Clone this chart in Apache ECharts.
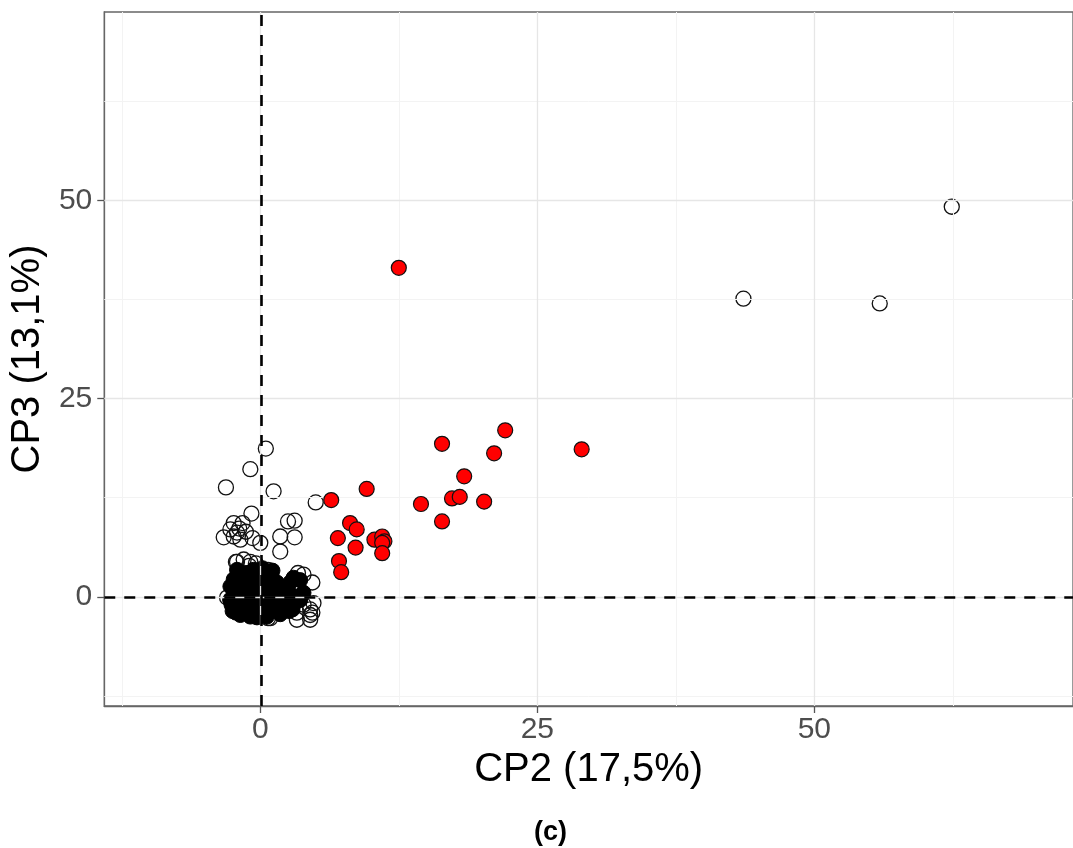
<!DOCTYPE html>
<html>
<head>
<meta charset="utf-8">
<script src="https://cdn.jsdelivr.net/npm/echarts@6/dist/echarts.min.js"></script>
<style>
html, body { margin: 0; padding: 0; background: #fff; }
#chart { width: 1073px; height: 848px; }
</style>
</head>
<body>
<div id="chart"></div>
<script>
// CP2 / CP3 scores
var hollowPts = [
	[62.4, 49.2], [43.6, 37.6], [55.9, 37.0],
	[0.5, 18.7], [-0.9, 16.1], [-3.1, 13.8], [1.2, 13.3], [5.0, 11.9],
	[-0.8, 10.5], [-2.4, 9.3], [-1.6, 9.3], [-1.9, 8.6], [2.5, 9.5], [3.1, 9.6],
	[1.8, 7.6], [3.1, 7.5], [1.8, 5.7],
	[-3.3, 7.5], [-2.7, 8.5], [-2.1, 8.1], [-1.3, 8.2], [-0.7, 7.4], [0.0, 6.8], [-1.8, 7.2], [-2.4, 7.6],
	[-1.5, 4.7], [-0.9, 4.4], [-2.1, 4.4], [-0.4, 4.2], [-2.2, 4.4], [-1.0, 3.9],
	[3.4, 3.0], [4.7, 1.8], [0.7, 3.4], [3.9, 2.8],
	[3.3, -2.9], [4.5, -2.9], [4.7, -2.0], [4.5, -2.3], [4.8, -0.8], [3.3, -2.0],
	[0.7, -2.7], [1.8, -2.0], [0.9, -2.7], [3.9, -1.0], [4.5, -1.6],
	[-2.7, -0.4], [-3.0, -0.1]
]
var redPts = [
	[12.5, 41.5], [29.0, 18.6], [22.1, 21.0], [16.4, 19.3], [21.1, 18.1], [18.4, 15.2],
	[17.3, 12.4], [18.0, 12.6], [20.2, 12.0], [14.5, 11.7], [16.4, 9.5],
	[9.6, 13.6], [6.4, 12.2], [8.1, 9.3], [8.7, 8.5], [7.0, 7.4], [8.6, 6.2],
	[10.3, 7.2], [11.0, 7.6], [11.2, 7.0], [11.0, 6.8], [11.0, 5.5], [7.1, 4.5], [7.3, 3.1]
]
var blackPts = [
	[-2.1, 3.4], [0.2, 3.6], [-0.6, 3.4], [0.7, 2.5], [3.0, 2.4], [3.6, 2.1], [2.7, 1.8], [1.5, 1.8],
	[-1.2, 2.1], [-2.7, 1.3], [0.0, 1.3], [-2.4, 0.9], [-1.8, 0.3], [-0.9, 0.0], [-0.3, -0.1],
	[0.6, 0.5], [1.5, 0.0], [2.4, 0.5], [3.9, 0.5], [-2.7, -0.4], [-1.5, -0.8], [0.3, -1.0],
	[1.8, -1.3], [3.0, -1.0], [3.6, -0.4], [2.4, -0.8], [-1.5, -1.6], [-0.3, -2.0], [1.2, -1.6],
	[-0.9, -2.5], [0.6, -2.5], [-2.0, -1.2], [-1.0, 1.0], [0.8, 1.2], [2.0, -0.2], [-2.2, -2.0],
	[1.0, 2.8], [-1.6, 2.8], [0.0, -1.5], [-0.5, 0.8],
	[-2.5, -1.8], [-1.8, -2.3], [-1.2, -0.4], [-0.6, -1.2], [0.9, -0.4], [1.3, 0.9], [2.2, 1.2],
	[2.9, 0.2], [3.3, -0.3], [2.6, -1.8], [1.8, -2.2], [-0.2, 2.2], [-1.6, 1.4], [-2.4, 2.2],
	[-0.3, -2.6], [0.4, 0.2], [-1.9, -0.1], [1.6, -0.8], [0.2, 2.0], [-0.8, -1.8], [2.9, -1.6],
	[-2.6, -1.0], [1.1, 3.3], [-1.3, 3.0], [0.5, -1.9], [-0.4, 1.6]
]

var xMajor = [0, 25, 50]
var xMinor = [-12.5, 12.5, 37.5, 62.5]
var yMajor = [0, 25, 50]
var yMinor = [-12.5, 12.5, 37.5, 62.5]

var font = 'Liberation Sans, Arial, Helvetica, sans-serif'

// grid lines as markLines (axis min is not a multiple of the step)
var gridLines = []
xMinor.forEach(function (v) { gridLines.push({ xAxis: v, lineStyle: { color: '#f3f3f3', width: 1, type: 'solid' } }) })
yMinor.forEach(function (v) { gridLines.push({ yAxis: v, lineStyle: { color: '#f3f3f3', width: 1, type: 'solid' } }) })
xMajor.forEach(function (v) { gridLines.push({ xAxis: v, lineStyle: { color: '#e6e6e6', width: 1.3, type: 'solid' } }) })
yMajor.forEach(function (v) { gridLines.push({ yAxis: v, lineStyle: { color: '#e6e6e6', width: 1.3, type: 'solid' } }) })

var chart = echarts.init(document.getElementById('chart'))
var option = {
	animation: false,
	backgroundColor: '#fff',
	title: {
		text: '(c)',
		left: 529,
		top: 814,
		textStyle: { fontFamily: font, fontSize: 27, fontWeight: 'bold', color: '#000' }
	},
	grid: {
		left: 103,
		top: 12,
		right: -5,
		bottom: 142,
		show: true,
		backgroundColor: '#fff',
		borderColor: '#666',
		borderWidth: 1.3
	},
	xAxis: {
		type: 'value',
		min: -14.08,
		max: 73.34,
		name: 'CP2 (17,5%)',
		nameLocation: 'middle',
		nameGap: 38,
		nameTextStyle: { fontFamily: font, fontSize: 40, color: '#000' },
		axisLine: { show: true, onZero: false, lineStyle: { color: '#666', width: 1.3 } },
		axisTick: { show: true, customValues: xMajor, length: 7, lineStyle: { color: '#555', width: 1.3 } },
		axisLabel: { customValues: xMajor, fontFamily: font, fontSize: 30, color: '#4d4d4d', margin: 9 },
		splitLine: { show: false }
	},
	yAxis: {
		type: 'value',
		min: -13.78,
		max: 73.77,
		name: 'CP3 (13,1%)',
		nameLocation: 'middle',
		nameGap: 50,
		nameRotate: 90,
		nameTextStyle: { fontFamily: font, fontSize: 40, color: '#000' },
		axisLine: { show: true, onZero: false, lineStyle: { color: '#666', width: 1.3 } },
		axisTick: { show: true, customValues: yMajor, length: 7, lineStyle: { color: '#555', width: 1.3 } },
		axisLabel: { customValues: yMajor, fontFamily: font, fontSize: 30, color: '#4d4d4d', margin: 12 },
		splitLine: { show: false }
	},
	series: [
		{
			name: 'grid',
			type: 'scatter',
			data: [],
			z: 1,
			markLine: {
				silent: true,
				symbol: ['none', 'none'],
				label: { show: false },
				data: gridLines
			}
		},
		{
			name: 'ref',
			type: 'scatter',
			data: [],
			z: 2,
			markLine: {
				silent: true,
				symbol: ['none', 'none'],
				label: { show: false },
				lineStyle: { color: '#000', width: 2.6, type: [11, 9] },
				data: [{ xAxis: 0.1 }, { yAxis: 0 }]
			}
		},
		{
			name: 'hollow',
			type: 'scatter',
			z: 3,
			symbol: 'circle',
			symbolSize: 15,
			itemStyle: { color: 'rgba(0,0,0,0)', borderColor: '#111', borderWidth: 1.3, opacity: 1 },
			data: hollowPts
		},
		{
			name: 'black',
			type: 'scatter',
			z: 4,
			symbol: 'circle',
			symbolSize: 15,
			itemStyle: { color: '#000', borderColor: '#000', borderWidth: 1, opacity: 1 },
			data: blackPts
		},
		{
			name: 'red',
			type: 'scatter',
			z: 5,
			symbol: 'circle',
			symbolSize: 15,
			itemStyle: { color: '#ff0000', borderColor: '#111', borderWidth: 1.2, opacity: 1 },
			data: redPts
		}
	]
}
chart.setOption(option)
</script>
</body>
</html>
